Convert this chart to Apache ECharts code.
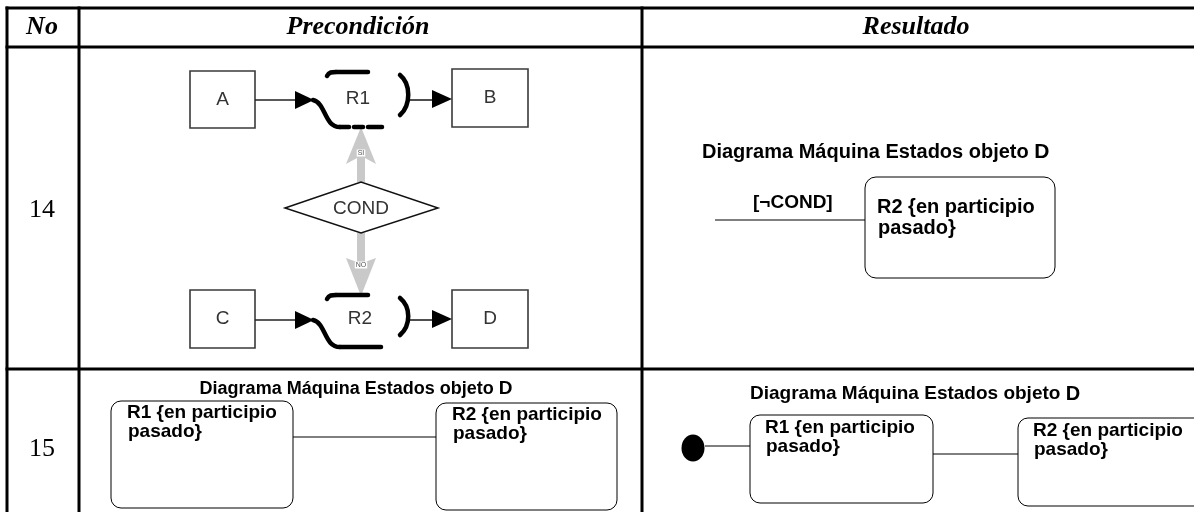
<!DOCTYPE html>
<html>
<head>
<meta charset="utf-8">
<script src="https://cdn.jsdelivr.net/npm/echarts@6/dist/echarts.min.js"></script>
<style>
html,body{margin:0;padding:0;background:#fff;}
#chart{width:1194px;height:512px;}
</style>
</head>
<body>
<div id="chart"></div>
<script>
// ---------- data (texts of the table) ----------
const headers = ['No', 'Precondición', 'Resultado'];
const rowNumbers = ['14', '15'];
const flowBoxes = ['A', 'B', 'C', 'D'];
const regions = ['R1', 'R2'];
const conditionLabel = 'COND';
const branchLabels = ['SI', 'NO'];
const diagramTitle = 'Diagrama Máquina Estados objeto ';
const diagramObject = 'D';
const guardLabel = '[¬COND]';
const stateNames = ['R1', 'R2'];
const stateDescription = ['{en participio', 'pasado}'];

// ---------- layout (design units = pixels of the 1194x512 canvas) ----------
const L = {
  cols: [7, 79, 642],
  hLines: [8, 47, 369],
  headerY: 27,
  headerX: [42, 358, 916],
  rowY: [210, 449],
  boxes: [[190, 71, 65, 57], [452, 69, 76, 58], [190, 290, 65, 58], [452, 290, 76, 58]],
  flowY: [100, 320],
  regionCx: [358, 360],
  regionTop: [72, 295],
  regionBottom: [127, 347],
  diamond: [285, 361, 438, 182, 208, 233],
  res14: {title: [702, 152], guard: [753, 203], line: [715, 865, 220], box: [865, 177, 190, 101]},
  pre15: {title: [356, 389], boxes: [[111, 401, 182, 107], [436, 403, 181, 107]], line: [437]},
  res15: {title: [750, 394], dot: [693, 448], boxes: [[750, 415, 183, 88], [1018, 418, 190, 88]], lines: [[705, 750, 446], [933, 1018, 454]]}
};

const SERIF = '"Liberation Serif", "Times New Roman", serif';
const SANS = '"Liberation Sans", Arial, sans-serif';

function renderItem(params, api) {
  const P = (x, y) => api.coord([x, y]);
  const ch = [];
  const line = (x1, y1, x2, y2, w, c, cap) => {
    const a = P(x1, y1), b = P(x2, y2);
    ch.push({type: 'line', shape: {x1: a[0], y1: a[1], x2: b[0], y2: b[1]}, style: {stroke: c || '#000', lineWidth: w || 1, lineCap: cap || 'butt'}});
  };
  const poly = (pts, fill) => {
    ch.push({type: 'polygon', shape: {points: pts.map(p => P(p[0], p[1]))}, style: {fill: fill}});
  };
  const bez = (p0, c1, c2, p1, w) => {
    const a = P(p0[0], p0[1]), b = P(c1[0], c1[1]), c = P(c2[0], c2[1]), d = P(p1[0], p1[1]);
    ch.push({type: 'bezierCurve', shape: {x1: a[0], y1: a[1], cpx1: b[0], cpy1: b[1], cpx2: c[0], cpy2: c[1], x2: d[0], y2: d[1]}, style: {stroke: '#000', lineWidth: w, lineCap: 'round', fill: null}});
  };
  const rect = (x, y, w, h, r, stroke, lw) => {
    const a = P(x, y), b = P(x + w, y + h);
    ch.push({type: 'rect', shape: {x: a[0], y: a[1], width: b[0] - a[0], height: b[1] - a[1], r: r}, style: {fill: '#fff', stroke: stroke, lineWidth: lw}});
  };
  const text = (s, x, y, o) => {
    const a = P(x, y);
    ch.push({type: 'text', x: a[0], y: a[1], style: Object.assign({text: s, fill: '#000', align: 'center', verticalAlign: 'middle'}, o)});
  };

  // ----- table grid -----
  L.hLines.forEach(y => line(L.cols[0] - 1.5, y, 1194, y, 3));
  L.cols.forEach(x => line(x, L.hLines[0] - 1.5, x, 512, 3));

  // ----- headers -----
  headers.forEach((h, i) => text(h, L.headerX[i], L.headerY, {fontFamily: SERIF, fontSize: 26, fontWeight: 'bold', fontStyle: 'italic'}));
  rowNumbers.forEach((r, i) => text(r, L.headerX[0], L.rowY[i], {fontFamily: SERIF, fontSize: 26}));

  // ----- row 14 precondition -----
  flowBoxes.forEach((b, i) => {
    const bx = L.boxes[i];
    rect(bx[0], bx[1], bx[2], bx[3], 0, '#3a3a3a', 1.6);
    text(b, bx[0] + bx[2] / 2, bx[1] + bx[3] / 2, {fontFamily: SANS, fontSize: 19, fill: '#333'});
  });
  const arrowHead = (xBase, xTip, y) => poly([[xBase, y - 9], [xTip, y], [xBase, y + 9]], '#000');

  // gray branch arrows (drawn first, under brackets)
  const gc = '#c9c9c9';
  const d = L.diamond;
  poly([[d[1], 127], [d[1] + 15, 164], [d[1] + 4, 158], [d[1] + 4, d[3]], [d[1] - 4, d[3]], [d[1] - 4, 158], [d[1] - 15, 164]], gc);
  poly([[d[1] - 4, d[5]], [d[1] + 4, d[5]], [d[1] + 4, 262], [d[1] + 15, 258], [d[1], 296], [d[1] - 15, 258], [d[1] - 4, 262]], gc);
  text(branchLabels[0], d[1], 153, {fontFamily: SANS, fontSize: 7, fill: '#555', backgroundColor: '#fff', padding: [0, 1]});
  text(branchLabels[1], d[1], 265, {fontFamily: SANS, fontSize: 7, fill: '#555', backgroundColor: '#fff', padding: [0, 1]});

  regions.forEach((r, i) => {
    const y = L.flowY[i], top = L.regionTop[i], bot = L.regionBottom[i];
    line(255, y, 297, y, 1.6, '#222');
    arrowHead(295, 314, y);
    line(407, y, 434, y, 1.6, '#222');
    arrowHead(432, 452, y - 1);
    bez([327, top + 4], [329, top], [332, top], [336, top], 4.5);
    line(336, top, 368, top, 4.5, '#000', 'round');
    bez([313, y], [326, y + 3], [324, bot], [340, bot], 4.5);
    if (i === 0) {
      line(340, bot, 349, bot, 4.5, '#000', 'round');
      line(354, bot, 363, bot, 4.5, '#000', 'round');
      line(368, bot, 382, bot, 4.5, '#000', 'round');
    } else {
      line(340, bot, 381, bot, 4.5, '#000', 'round');
    }
    bez([400, top + 3], [411, top + 12], [411, bot - 22], [400, bot - 12], 4.5);
    text(r, L.regionCx[i], y - 1, {fontFamily: SANS, fontSize: 19, fill: '#333'});
  });

  // diamond
  ch.push({type: 'polygon', shape: {points: [P(d[0], d[4]), P(d[1], d[3]), P(d[2], d[4]), P(d[1], d[5])]}, style: {fill: '#fff', stroke: '#111', lineWidth: 1.5}});
  text(conditionLabel, d[1], d[4] + 1, {fontFamily: SANS, fontSize: 19, fill: '#333'});

  // ----- row 14 result -----
  const r14 = L.res14;
  const titleRich = (size) => ({
    a: {fontFamily: SANS, fontSize: size, fontWeight: 'bold', fill: '#000'},
    b: {fontFamily: SANS, fontSize: size + 1, fontWeight: 900, fill: '#000'}
  });
  text('{a|' + diagramTitle + '}{b|' + diagramObject + '}', r14.title[0], r14.title[1], {align: 'left', rich: titleRich(20)});
  text(guardLabel, r14.guard[0], r14.guard[1], {align: 'left', fontFamily: SANS, fontSize: 19, fontWeight: 'bold'});
  line(r14.line[0], r14.line[2], r14.line[1], r14.line[2], 1, '#000');
  rect(r14.box[0], r14.box[1], r14.box[2], r14.box[3], 11, '#000', 1);
  text(stateNames[1] + ' ' + stateDescription[0], r14.box[0] + 12, r14.box[1] + 30, {align: 'left', fontFamily: SANS, fontSize: 20, fontWeight: 'bold'});
  text(stateDescription[1], r14.box[0] + 13, r14.box[1] + 51, {align: 'left', fontFamily: SANS, fontSize: 20, fontWeight: 'bold'});

  // ----- row 15 precondition -----
  const p15 = L.pre15;
  text('{a|' + diagramTitle + '}{b|' + diagramObject + '}', p15.title[0], p15.title[1], {align: 'center', rich: titleRich(18)});
  line(p15.boxes[0][0] + p15.boxes[0][2], p15.line[0], p15.boxes[1][0], p15.line[0], 1, '#000');
  p15.boxes.forEach((b, i) => {
    rect(b[0], b[1], b[2], b[3], 10, '#000', 1);
    text(stateNames[i] + ' ' + stateDescription[0], b[0] + 16, b[1] + 12, {align: 'left', fontFamily: SANS, fontSize: 19, fontWeight: 'bold'});
    text(stateDescription[1], b[0] + 17, b[1] + 31, {align: 'left', fontFamily: SANS, fontSize: 19, fontWeight: 'bold'});
  });

  // ----- row 15 result -----
  const r15 = L.res15;
  text('{a|' + diagramTitle + '}{b|' + diagramObject + '}', r15.title[0], r15.title[1], {align: 'left', rich: titleRich(19)});
  r15.lines.forEach(l => line(l[0], l[2], l[1], l[2], 1, '#000'));
  const dc = P(r15.dot[0], r15.dot[1]);
  ch.push({type: 'circle', x: dc[0], y: dc[1], scaleY: 1.18, shape: {cx: 0, cy: 0, r: 11.5}, style: {fill: '#000'}});
  r15.boxes.forEach((b, i) => {
    rect(b[0], b[1], b[2], b[3], 10, '#000', 1);
    text(stateNames[i] + ' ' + stateDescription[0], b[0] + 15, b[1] + 13, {align: 'left', fontFamily: SANS, fontSize: 19, fontWeight: 'bold'});
    text(stateDescription[1], b[0] + 16, b[1] + 32, {align: 'left', fontFamily: SANS, fontSize: 19, fontWeight: 'bold'});
  });

  return {type: 'group', children: ch};
}

const chart = echarts.init(document.getElementById('chart'), null, {renderer: 'canvas'});
chart.setOption({
  animation: false,
  backgroundColor: '#fff',
  grid: {left: 0, right: 0, top: 0, bottom: 0},
  xAxis: {type: 'value', min: 0, max: 1194, show: false},
  yAxis: {type: 'value', min: 0, max: 512, inverse: true, show: false},
  series: [{
    type: 'custom',
    clip: false,
    silent: true,
    data: [[0, 0]],
    renderItem: renderItem
  }]
});
</script>
</body>
</html>
